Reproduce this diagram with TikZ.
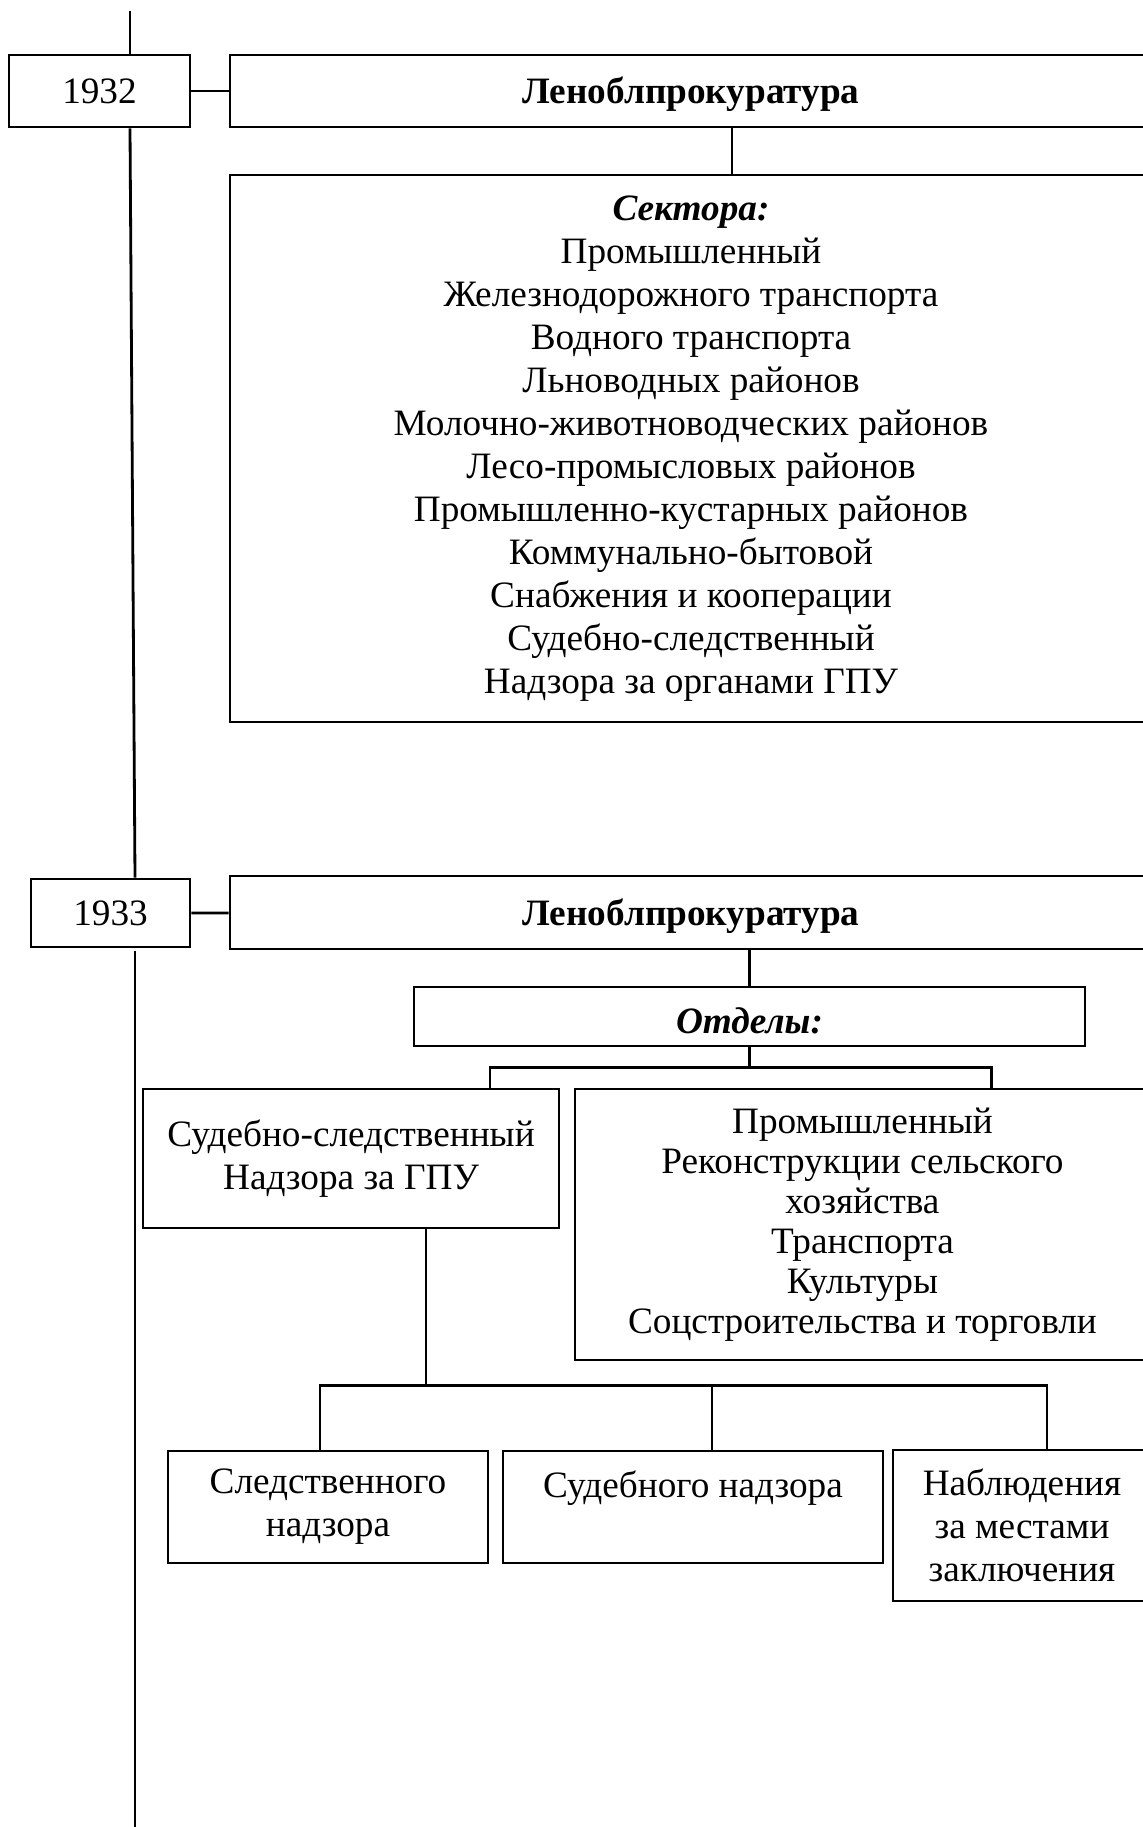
\documentclass[tikz,border=0pt]{standalone}
\usepackage{fontspec}
\setmainfont{Liberation Serif}
\newcommand\chartfont{\fontsize{21.2}{24.5}\selectfont}

\begin{document}
\begin{tikzpicture}[
    x=0.02cm, y=-0.02cm,
    line width=1.6pt,
    box/.style={draw, rectangle, inner sep=0pt, align=center, font=\chartfont},
    head/.style={box, font=\chartfont\bfseries, text height=0.68cm},
    tight/.style={box, font=\fontsize{21.2}{22.8}\selectfont}
  ]
  \useasboundingbox (0,0) rectangle (1143,1827);

  % 1932
  \node[box, minimum width=3.62cm, minimum height=1.44cm] (y32) at (99.5,91) {1932};
  \node[head, minimum width=18.44cm, minimum height=1.44cm] (lp32) at (691,91) {Леноблпрокуратура};
  \node[box, minimum width=18.44cm, minimum height=10.94cm] (sec) at (691,448.5)
    {\textbf{\textit{Сектора:}}\\
     Промышленный\\
     Железнодорожного транспорта\\
     Водного транспорта\\
     Льноводных районов\\
     Молочно-животноводческих районов\\
     Лесо-промысловых районов\\
     Промышленно-кустарных районов\\
     Коммунально-бытовой\\
     Снабжения и кооперации\\
     Судебно-следственный\\
     Надзора за органами ГПУ};

  % 1933
  \node[box, minimum width=3.18cm, minimum height=1.36cm] (y33) at (110.5,913) {1933};
  \node[head, minimum width=18.44cm, minimum height=1.46cm] (lp33) at (691,912.5) {Леноблпрокуратура};
  \node[head, minimum width=13.42cm, minimum height=1.18cm] (dept) at (749.5,1016.5) {\textit{Отделы:}};
  \node[box, minimum width=8.32cm, minimum height=2.78cm] (ssd) at (351,1158.5)
    {Судебно-следственный\\ Надзора за ГПУ};
  \node[tight, minimum width=11.5cm, minimum height=5.42cm] (rest) at (862.5,1224.5)
    {Промышленный\\
     Реконструкции сельского\\
     хозяйства\\
     Транспорта\\
     Культуры\\
     Соцстроительства и торговли};
  \node[box, minimum width=6.4cm, minimum height=2.24cm] (sled) at (328,1507)
    {Следственного\\ надзора};
  \node[box, minimum width=7.6cm, minimum height=2.24cm] (sud) at (693,1507)
    {Судебного надзора\\[-0.2cm] \strut};
  \node[box, minimum width=5.16cm, minimum height=3.02cm] (nabl) at (1022,1525.5)
    {Наблюдения\\ за местами\\ заключения};

  % time line
  \coordinate (tl1) at (130,11);
  \coordinate (tl2) at (135,1827);
  \draw (tl1) -- (tl1 |- y32.north);
  \draw (tl1 |- y32.south) -- (tl2 |- y33.north);
  \draw ([yshift=-0.06cm]tl2 |- y33.south) -- (tl2);

  % connectors
  \draw (y32) -- (lp32);
  \draw (y33) -- (lp33);
  \draw ([xshift=0.82cm]lp32.south) -- ([xshift=0.82cm]sec.north);
  \draw (lp33.south -| dept) -- (dept);
  \draw (dept.south) -- ++(0,20) coordinate (fork1);
  \draw ([xshift=2.78cm]ssd.north) |- (fork1) -| ([xshift=2.58cm]rest.north);
  \draw ([xshift=1.5cm]ssd.south) -- ++(0,156) coordinate (fork2);
  \draw ([xshift=-0.16cm]sled.north) |- (fork2) -| ([xshift=0.5cm]nabl.north);
  \draw ([xshift=0.38cm]sud.north) -- ([xshift=0.38cm]sud.north |- fork2);
\end{tikzpicture}
\end{document}
